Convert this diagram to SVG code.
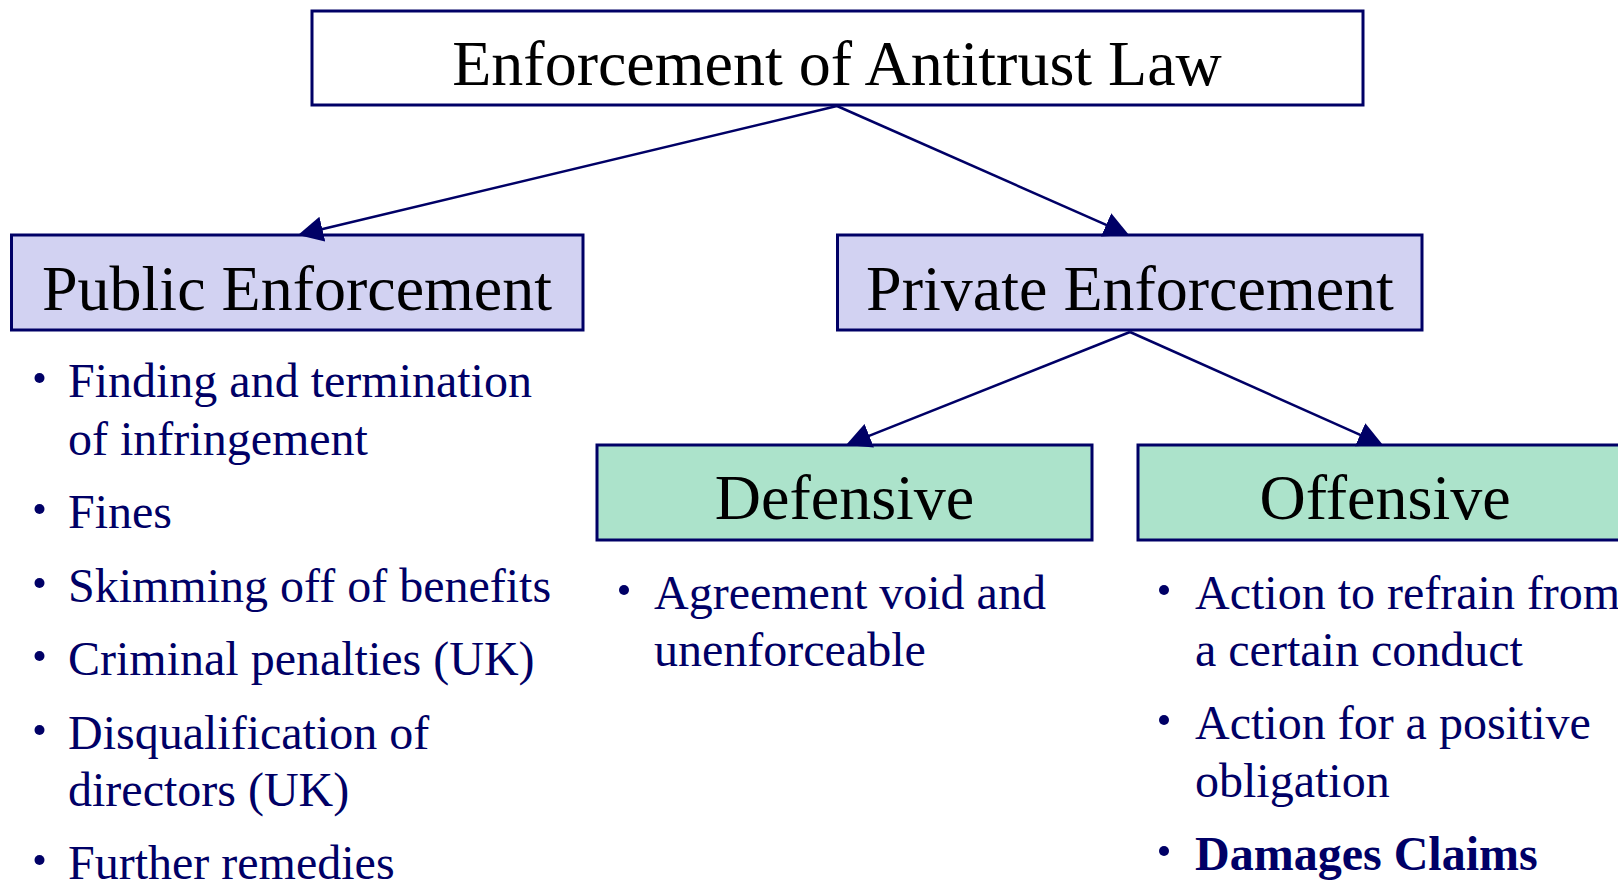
<svg xmlns="http://www.w3.org/2000/svg" width="1618" height="881" viewBox="0 0 1618 881">
  <style>
    .box { stroke: #000066; stroke-width: 3; }
    .root { fill: #ffffff; }
    .lav { fill: #d2d2f2; }
    .mint { fill: #ace3cb; }
    .head { font-family: "Liberation Serif", "Times New Roman", serif; font-size: 64px; fill: #000000; text-anchor: middle; }
    .item { font-family: "Liberation Serif", "Times New Roman", serif; font-size: 48px; fill: #000066; }
    .bold { font-weight: bold; }
    .dot { fill: #000066; }
    .link { stroke: #000066; stroke-width: 2.5; fill: none; marker-end: url(#tri); }
  </style>
  <defs>
    <marker id="tri" markerUnits="userSpaceOnUse" markerWidth="26" markerHeight="26" refX="5" refY="12.7" orient="auto">
      <path d="M0,0 L25,12.7 L0,25.4 z" fill="#000066"/>
    </marker>
  </defs>
  <rect width="1618" height="881" fill="#ffffff"/>

  <g id="node-root">
    <rect class="box root" x="312" y="11" width="1051" height="94"/>
    <text class="head" x="837" y="85">Enforcement of Antitrust Law</text>
  </g>

  <g id="node-public">
    <rect class="box lav" x="11.5" y="235" width="571.5" height="95"/>
    <text class="head" x="297" y="310">Public Enforcement</text>
  </g>

  <g id="node-private">
    <rect class="box lav" x="837.5" y="235" width="584.5" height="95"/>
    <text class="head" x="1130" y="310">Private Enforcement</text>
  </g>

  <g id="node-defensive">
    <rect class="box mint" x="597" y="445" width="495" height="95"/>
    <text class="head" x="844.5" y="519">Defensive</text>
  </g>

  <g id="node-offensive">
    <rect class="box mint" x="1138" y="445" width="495" height="95"/>
    <text class="head" x="1385" y="519">Offensive</text>
  </g>

  <g id="list-public">
    <circle class="dot" cx="39.5" cy="378" r="5"/>
    <text class="item" x="68" y="397">Finding and termination</text>
    <text class="item" x="68" y="455">of infringement</text>
    <circle class="dot" cx="39.5" cy="509" r="5"/>
    <text class="item" x="68" y="528">Fines</text>
    <circle class="dot" cx="39.5" cy="583" r="5"/>
    <text class="item" x="68" y="602">Skimming off of benefits</text>
    <circle class="dot" cx="39.5" cy="656" r="5"/>
    <text class="item" x="68" y="675">Criminal penalties (UK)</text>
    <circle class="dot" cx="39.5" cy="730" r="5"/>
    <text class="item" x="68" y="749">Disqualification of</text>
    <text class="item" x="68" y="806">directors (UK)</text>
    <circle class="dot" cx="39.5" cy="860" r="5"/>
    <text class="item" x="68" y="879">Further remedies</text>
  </g>

  <g id="list-defensive">
    <circle class="dot" cx="624" cy="590" r="5"/>
    <text class="item" x="654" y="609">Agreement void and</text>
    <text class="item" x="654" y="666">unenforceable</text>
  </g>

  <g id="list-offensive">
    <circle class="dot" cx="1164" cy="590" r="5"/>
    <text class="item" x="1195" y="609">Action to refrain from</text>
    <text class="item" x="1195" y="666">a certain conduct</text>
    <circle class="dot" cx="1164" cy="720" r="5"/>
    <text class="item" x="1195" y="739">Action for a positive</text>
    <text class="item" x="1195" y="797">obligation</text>
    <circle class="dot" cx="1164" cy="851" r="5"/>
    <text class="item bold" x="1195" y="870">Damages Claims</text>
  </g>

  <g id="connectors">
    <line class="link" x1="837" y1="106" x2="317.5" y2="230.3"/>
    <line class="link" x1="837" y1="106" x2="1110.7" y2="226.9"/>
    <line class="link" x1="1130" y1="332" x2="864.6" y2="437.6"/>
    <line class="link" x1="1130" y1="332" x2="1364.7" y2="436.8"/>
  </g>
</svg>
